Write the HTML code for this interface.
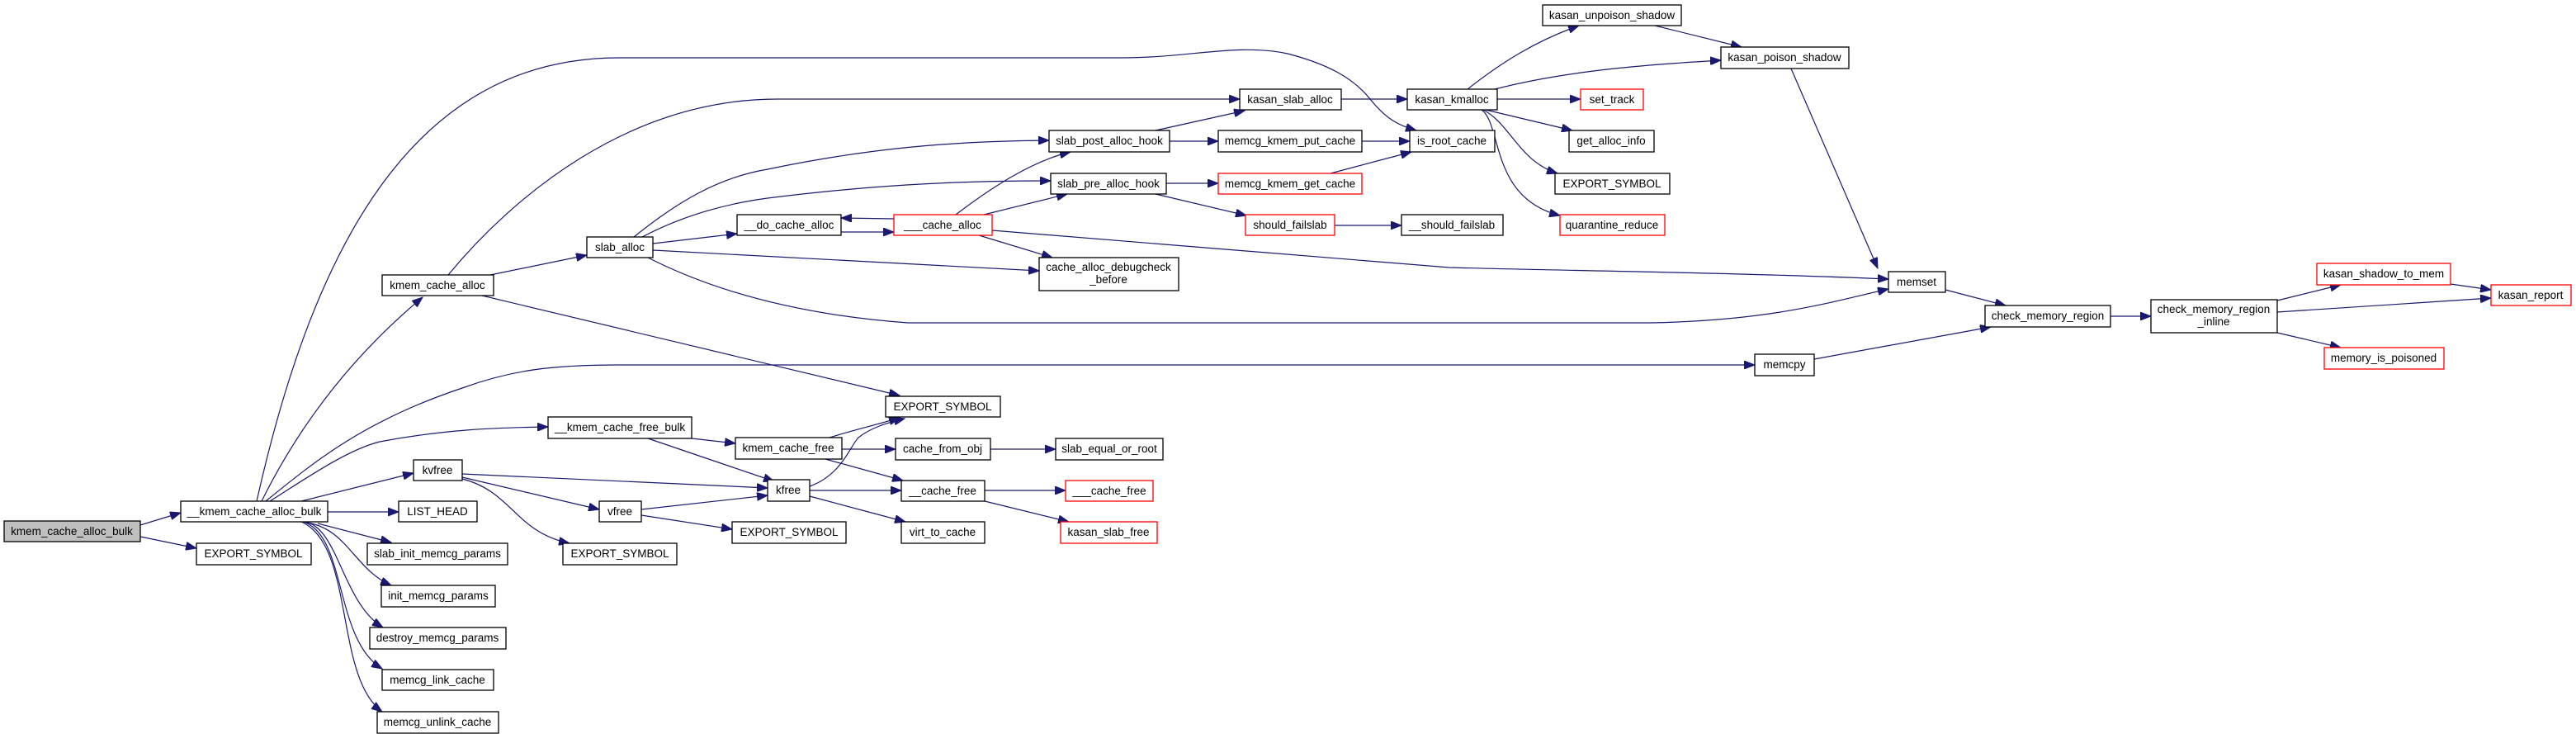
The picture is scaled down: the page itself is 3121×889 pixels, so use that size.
<!DOCTYPE html>
<html><head><meta charset="utf-8"><style>
html,body{margin:0;padding:0;background:#fff;}
svg{display:block;}
text{font-family:"Liberation Sans",sans-serif;font-size:13.5px;fill:#000;text-anchor:middle;}
.n{fill:#fff;stroke:#000;stroke-width:1.3;}
.r{fill:#fff;stroke:#ff0000;stroke-width:1.3;}
.e{fill:none;stroke:#191970;stroke-width:1.2;}
</style></head><body>
<svg width="3121" height="889" viewBox="0 0 3121 889" xmlns="http://www.w3.org/2000/svg">
<defs><marker id="a" markerUnits="userSpaceOnUse" markerWidth="14" markerHeight="10" refX="13" refY="5" orient="auto"><path d="M0,0 L13,5 L0,10 z" fill="#191970" stroke="#191970"/></marker></defs>
<g class="e" marker-end="url(#a)">
<path d="M170,636 L219,621"/>
<path d="M170,650 L238,664"/>
<path d="M317,607 C370,500 440,420 512,360"/>
<path d="M311,607 C380,300 500,70 750,70 L1360,70 C1440,70 1500,52 1560,65 C1610,78 1640,95 1660,120 C1680,145 1695,152 1716,158"/>
<path d="M543,333 C620,240 760,120 942,120 L1502,120"/>
<path d="M322,607 C380,560 440,510 560,470 C620,448 670,442 750,442 L2126,442"/>
<path d="M327,607 C370,580 420,545 460,535 C540,520 600,518 664,517"/>
<path d="M365,607 L501,573"/>
<path d="M397,620 L483,620"/>
<path d="M385,634 L474,657"/>
<path d="M372,633 C420,640 430,690 474,709"/>
<path d="M370,632 C410,640 415,730 464,760"/>
<path d="M368,632 C420,650 405,775 463,810"/>
<path d="M365,632 C430,660 405,820 463,862"/>
<path d="M594,333 L711,309"/>
<path d="M584,358 L1090,479"/>
<path d="M791,295 L893,283"/>
<path d="M768,287 C820,245 870,215 930,205 C1050,180 1150,171 1271,170"/>
<path d="M778,287 C820,265 870,248 930,240 C1050,225 1150,219 1273,219"/>
<path d="M791,303 L1259,328"/>
<path d="M785,312 C850,345 950,380 1100,391 L2000,391 C2150,388 2220,365 2288,350"/>
<path d="M1083,265 L1019,264"/>
<path d="M1019,281 L1083,281"/>
<path d="M1158,260 C1200,228 1250,195 1297,184"/>
<path d="M1192,260 L1293,235"/>
<path d="M1186,285 L1275,312"/>
<path d="M1202,279 L1756,324 C1900,328 2100,330 2288,338"/>
<path d="M1400,158 L1508,134"/>
<path d="M1417,171 L1476,171"/>
<path d="M1650,171 L1708,171"/>
<path d="M1413,222 L1476,222"/>
<path d="M1400,235 L1510,261"/>
<path d="M1612,210 L1710,184"/>
<path d="M1617,273 L1698,273"/>
<path d="M1625,120 L1705,120"/>
<path d="M1778,108 C1820,75 1860,50 1913,31"/>
<path d="M1811,108 C1900,85 2000,78 2085,73"/>
<path d="M2005,31 L2110,57"/>
<path d="M1814,120 L1915,120"/>
<path d="M1800,133 L1905,158"/>
<path d="M1797,133 C1830,150 1840,195 1887,210"/>
<path d="M1795,133 C1820,150 1805,240 1890,261"/>
<path d="M2170,83 L2275,325"/>
<path d="M2357,351 L2430,370"/>
<path d="M2198,435 L2412,396"/>
<path d="M2557,383 L2606,383"/>
<path d="M2759,364 L2836,345"/>
<path d="M2759,378 L3018,361"/>
<path d="M2759,403 L2836,421"/>
<path d="M2969,344 L3018,351"/>
<path d="M838,531 L891,537"/>
<path d="M785,531 L938,583"/>
<path d="M1005,530 C1030,522 1060,515 1090,506"/>
<path d="M981,589 C1020,575 1030,540 1040,530 C1055,518 1075,512 1096,507"/>
<path d="M1020,544 L1085,544"/>
<path d="M1000,556 L1094,582"/>
<path d="M1200,544 L1279,544"/>
<path d="M981,594 L1092,594"/>
<path d="M981,601 L1097,632"/>
<path d="M1193,594 L1291,594"/>
<path d="M1193,607 L1295,632"/>
<path d="M560,574 L930,591"/>
<path d="M560,578 L726,617"/>
<path d="M560,580 C620,595 625,645 690,658"/>
<path d="M777,617 L930,600"/>
<path d="M777,624 L887,641"/>
</g>
<g>
<rect x="5" y="631" width="165" height="25" style="fill:#bfbfbf;stroke:#000;stroke-width:1.3"/><text x="87" y="648">kmem_cache_alloc_bulk</text>
<rect class="n" x="238" y="658" width="139" height="26"/><text x="307" y="675">EXPORT_SYMBOL</text>
<rect class="n" x="219" y="607" width="178" height="25"/><text x="308" y="624">__kmem_cache_alloc_bulk</text>
<rect class="n" x="483" y="607" width="95" height="25"/><text x="530" y="624">LIST_HEAD</text>
<rect class="n" x="445" y="658" width="170" height="26"/><text x="530" y="675">slab_init_memcg_params</text>
<rect class="n" x="462" y="709" width="138" height="26"/><text x="531" y="726">init_memcg_params</text>
<rect class="n" x="448" y="760" width="165" height="26"/><text x="530" y="777">destroy_memcg_params</text>
<rect class="n" x="463" y="811" width="135" height="25"/><text x="530" y="828">memcg_link_cache</text>
<rect class="n" x="457" y="862" width="147" height="26"/><text x="530" y="879">memcg_unlink_cache</text>
<rect class="n" x="463" y="333" width="135" height="25"/><text x="530" y="350">kmem_cache_alloc</text>
<rect class="n" x="711" y="287" width="80" height="25"/><text x="751" y="304">slab_alloc</text>
<rect class="n" x="893" y="260" width="126" height="25"/><text x="956" y="277">__do_cache_alloc</text>
<rect class="n" x="664" y="505" width="174" height="26"/><text x="751" y="522">__kmem_cache_free_bulk</text>
<rect class="n" x="891" y="530" width="129" height="26"/><text x="955" y="547">kmem_cache_free</text>
<rect class="n" x="501" y="557" width="59" height="25"/><text x="530" y="574">kvfree</text>
<rect class="n" x="930" y="581" width="51" height="26"/><text x="955" y="598">kfree</text>
<rect class="n" x="726" y="607" width="51" height="25"/><text x="751" y="624">vfree</text>
<rect class="n" x="682" y="658" width="138" height="26"/><text x="751" y="675">EXPORT_SYMBOL</text>
<rect class="n" x="887" y="632" width="138" height="26"/><text x="956" y="649">EXPORT_SYMBOL</text>
<rect class="n" x="1869" y="6" width="168" height="25"/><text x="1953" y="23">kasan_unpoison_shadow</text>
<rect class="n" x="1502" y="108" width="123" height="25"/><text x="1563" y="125">kasan_slab_alloc</text>
<rect class="n" x="1705" y="108" width="109" height="25"/><text x="1759" y="125">kasan_kmalloc</text>
<rect class="r" x="1915" y="108" width="76" height="25"/><text x="1953" y="125">set_track</text>
<rect class="n" x="1271" y="158" width="146" height="26"/><text x="1344" y="175">slab_post_alloc_hook</text>
<rect class="n" x="1476" y="158" width="174" height="26"/><text x="1563" y="175">memcg_kmem_put_cache</text>
<rect class="n" x="1708" y="158" width="103" height="26"/><text x="1759" y="175">is_root_cache</text>
<rect class="n" x="1901" y="158" width="103" height="26"/><text x="1952" y="175">get_alloc_info</text>
<rect class="n" x="1273" y="210" width="140" height="25"/><text x="1343" y="227">slab_pre_alloc_hook</text>
<rect class="r" x="1476" y="210" width="174" height="25"/><text x="1563" y="227">memcg_kmem_get_cache</text>
<rect class="n" x="1884" y="210" width="139" height="25"/><text x="1953" y="227">EXPORT_SYMBOL</text>
<rect class="r" x="1083" y="260" width="119" height="25"/><text x="1142" y="277">___cache_alloc</text>
<rect class="r" x="1509" y="260" width="108" height="25"/><text x="1563" y="277">should_failslab</text>
<rect class="n" x="1698" y="260" width="123" height="25"/><text x="1759" y="277">__should_failslab</text>
<rect class="r" x="1890" y="260" width="127" height="25"/><text x="1953" y="277">quarantine_reduce</text>
<rect class="n" x="1259" y="312" width="169" height="40"/><text x="1343" y="328">cache_alloc_debugcheck</text><text x="1343" y="343">_before</text>
<rect class="n" x="1073" y="480" width="139" height="25"/><text x="1142" y="497">EXPORT_SYMBOL</text>
<rect class="n" x="1085" y="531" width="115" height="26"/><text x="1142" y="548">cache_from_obj</text>
<rect class="n" x="1279" y="531" width="130" height="26"/><text x="1344" y="548">slab_equal_or_root</text>
<rect class="n" x="1092" y="582" width="101" height="25"/><text x="1142" y="599">__cache_free</text>
<rect class="r" x="1291" y="582" width="106" height="25"/><text x="1344" y="599">___cache_free</text>
<rect class="n" x="1092" y="632" width="101" height="26"/><text x="1142" y="649">virt_to_cache</text>
<rect class="r" x="1285" y="632" width="117" height="26"/><text x="1343" y="649">kasan_slab_free</text>
<rect class="n" x="2085" y="57" width="155" height="26"/><text x="2162" y="74">kasan_poison_shadow</text>
<rect class="n" x="2288" y="329" width="69" height="25"/><text x="2322" y="346">memset</text>
<rect class="n" x="2405" y="370" width="152" height="26"/><text x="2481" y="387">check_memory_region</text>
<rect class="n" x="2606" y="363" width="153" height="40"/><text x="2682" y="379">check_memory_region</text><text x="2682" y="394">_inline</text>
<rect class="r" x="2807" y="319" width="162" height="26"/><text x="2888" y="336">kasan_shadow_to_mem</text>
<rect class="r" x="3018" y="345" width="97" height="25"/><text x="3066" y="362">kasan_report</text>
<rect class="r" x="2816" y="421" width="145" height="26"/><text x="2888" y="438">memory_is_poisoned</text>
<rect class="n" x="2126" y="429" width="72" height="26"/><text x="2162" y="446">memcpy</text>
</g>
</svg>
</body></html>
